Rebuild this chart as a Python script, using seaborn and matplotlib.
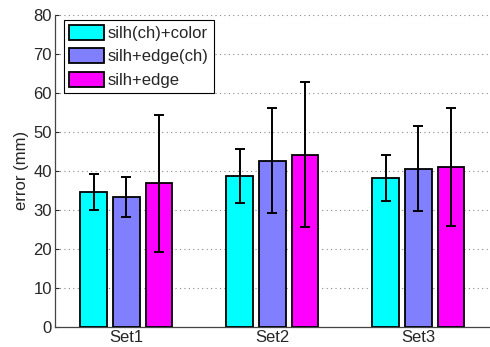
import matplotlib
matplotlib.use("Agg")
import matplotlib.pyplot as plt
import seaborn as sns
import pandas as pd
import numpy as np

sets = ["Set1", "Set2", "Set3"]
methods = ["silh(ch)+color", "silh+edge(ch)", "silh+edge"]
colors = ["#00FFFF", "#8080FF", "#FF00FF"]
means = {
    "silh(ch)+color": [34.6, 38.7, 38.2],
    "silh+edge(ch)": [33.4, 42.6, 40.5],
    "silh+edge": [36.8, 44.2, 41.0],
}
errs = {
    "silh(ch)+color": [4.6, 6.9, 5.9],
    "silh+edge(ch)": [5.1, 13.5, 10.9],
    "silh+edge": [17.5, 18.6, 15.1],
}

rows = []
for m in methods:
    for s, v, e in zip(sets, means[m], errs[m]):
        rows.append({"set": s, "method": m, "error": v, "sd": e})
df = pd.DataFrame(rows)

sns.set_style("white")
plt.rcParams["font.family"] = ["Liberation Sans", "DejaVu Sans"]

fig = plt.figure(figsize=(4.9, 3.47), dpi=100)
ax = fig.add_axes([0.112, 0.058, 0.888, 0.899])

sns.barplot(data=df, x="set", y="error", hue="method", hue_order=methods,
            order=sets, palette=colors, saturation=1, width=0.675, gap=0.2,
            errorbar=None, edgecolor="black", linewidth=1.3, ax=ax, zorder=3)

# error bars
for m, cont in zip(methods, ax.containers):
    xs = [p.get_x() + p.get_width() / 2 for p in cont.patches]
    ys = [p.get_height() for p in cont.patches]
    ax.errorbar(xs, ys, yerr=errs[m], fmt="none", ecolor="black",
                elinewidth=1.4, capsize=3.5, capthick=1.4, zorder=4)

ax.set_ylim(0, 80)
ax.set_xlim(-0.49, 2.49)
ax.set_yticks(range(0, 81, 10))
ax.set_xlabel("")
ax.set_ylabel("error (mm)", fontsize=12, labelpad=3)
ax.tick_params(axis="both", labelsize=12, direction="in", length=3, width=0.8,
               left=True, bottom=False, pad=2)
ax.yaxis.grid(True, linestyle=(0, (1, 3)), color="#888888", linewidth=0.8)
ax.set_axisbelow(True)
for s in ["top", "right"]:
    ax.spines[s].set_visible(False)
for s in ["left", "bottom"]:
    ax.spines[s].set_color("#444444")
    ax.spines[s].set_linewidth(0.9)

leg = ax.legend(loc="upper left", bbox_to_anchor=(0.02, 0.985), fontsize=12,
                frameon=True, fancybox=False, edgecolor="black",
                handlelength=2.15, handleheight=1.0, handletextpad=0.2,
                labelspacing=0.45, borderpad=0.3, borderaxespad=0.0)
leg.get_frame().set_linewidth(0.8)
leg.get_frame().set_alpha(1)

fig.savefig("out.png", dpi=100)
